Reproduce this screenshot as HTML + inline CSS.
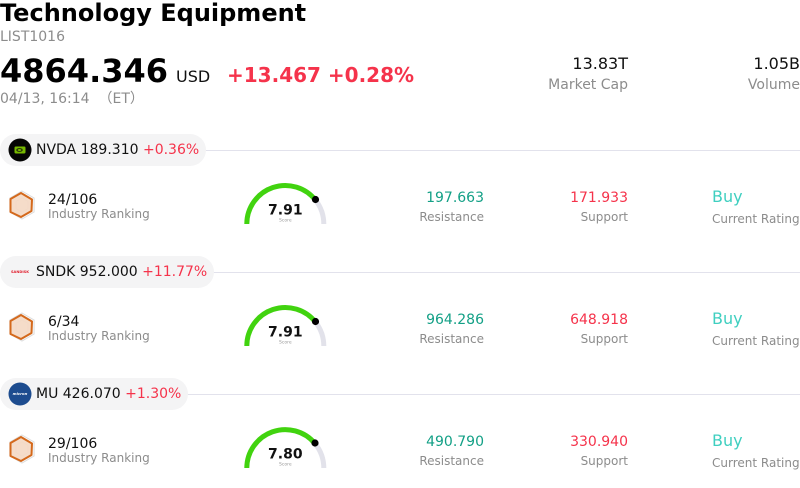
<!DOCTYPE html>
<html><head><meta charset="utf-8">
<style>
*{margin:0;padding:0;box-sizing:border-box}
html,body{width:800px;height:488px;background:#fff;overflow:hidden}
body{position:relative;font-family:"DejaVu Sans","Liberation Sans","Noto Sans CJK SC",sans-serif;color:#111}
.a{position:absolute;white-space:nowrap;line-height:1}
.r{text-align:right}
.g{color:#8c8c8c}
.red{color:#f5334b}
.grn{color:#13a086}
.buy{color:#3fcfc0}
.pill{position:absolute;left:0;height:32px;border-radius:16px;background:#f4f4f5;padding:0 7px 0 36px;font-size:14px;line-height:32px;white-space:nowrap;color:#111}
svg.bg{position:absolute;left:0;top:0}
</style></head><body>
<svg class="bg" width="800" height="488" viewBox="0 0 800 488">
  <line x1="0" y1="150.5" x2="800" y2="150.5" stroke="#e2e2ec" stroke-width="1"/>
  <line x1="0" y1="272.5" x2="800" y2="272.5" stroke="#e2e2ec" stroke-width="1"/>
  <line x1="0" y1="394.5" x2="800" y2="394.5" stroke="#e2e2ec" stroke-width="1"/>
  <defs>
    <g id="hex">
      <polygon points="22,191 34.1,198 34.1,212 22,219 9.9,212 9.9,198" fill="#fafafa" stroke="#dcdcdc" stroke-width="1"/>
      <polygon points="22,198 28,201.5 28,208.5 22,212 16,208.5 16,201.5" fill="none" stroke="#e6e6e6" stroke-width="0.7"/>
      <polygon points="21,193 32,199.5 31.5,211 21,217 10.5,212 10.5,199" fill="#f3d6bf" fill-opacity="0.85" stroke="#d4691c" stroke-width="2" stroke-linejoin="round"/>
    </g>
  </defs>
  <use href="#hex"/>
  <path d="M246.8 224 A38.5 38.5 0 0 1 315.8 200.5" fill="none" stroke="#41d30f" stroke-width="5"/>
  <path d="M315.8 200.5 A38.5 38.5 0 0 1 323.8 224" fill="none" stroke="#e2e2ea" stroke-width="5"/>
  <circle cx="315.5" cy="199.5" r="3.6" fill="#000"/>
  <text x="285.3" y="214.3" font-family="DejaVu Sans, sans-serif" font-weight="bold" font-size="14" text-anchor="middle" fill="#111">7.91</text>
  <text x="285.3" y="221.5" font-family="DejaVu Sans, sans-serif" font-size="4.5" text-anchor="middle" fill="#999">Score</text>
  <g transform="translate(0,122)">
    <use href="#hex"/>
    <path d="M246.8 224 A38.5 38.5 0 0 1 315.8 200.5" fill="none" stroke="#41d30f" stroke-width="5"/>
    <path d="M315.8 200.5 A38.5 38.5 0 0 1 323.8 224" fill="none" stroke="#e2e2ea" stroke-width="5"/>
    <circle cx="315.5" cy="199.5" r="3.6" fill="#000"/>
    <text x="285.3" y="214.3" font-family="DejaVu Sans, sans-serif" font-weight="bold" font-size="14" text-anchor="middle" fill="#111">7.91</text>
    <text x="285.3" y="221.5" font-family="DejaVu Sans, sans-serif" font-size="4.5" text-anchor="middle" fill="#999">Score</text>
  </g>
  <g transform="translate(0,244)">
    <use href="#hex"/>
    <path d="M246.8 224 A38.5 38.5 0 0 1 314.9 199.5" fill="none" stroke="#41d30f" stroke-width="5"/>
    <path d="M314.9 199.5 A38.5 38.5 0 0 1 323.8 224" fill="none" stroke="#e2e2ea" stroke-width="5"/>
    <circle cx="315" cy="199" r="3.6" fill="#000"/>
    <text x="285.3" y="214.3" font-family="DejaVu Sans, sans-serif" font-weight="bold" font-size="14" text-anchor="middle" fill="#111">7.80</text>
    <text x="285.3" y="221.5" font-family="DejaVu Sans, sans-serif" font-size="4.5" text-anchor="middle" fill="#999">Score</text>
  </g>
</svg>

<div class="a" style="left:0;top:1px;font-size:24px;font-weight:bold;color:#000">Technology Equipment</div>
<div class="a g" style="left:0;top:30px;font-size:14px">LIST1016</div>
<div class="a" style="left:0;top:55px;font-size:32px;font-weight:bold;color:#000">4864.346</div>
<div class="a" style="left:176px;top:68.5px;font-size:16px;color:#111">USD</div>
<div class="a red" style="left:227px;top:65px;font-size:20px;font-weight:bold">+13.467 +0.28%</div>
<div class="a g" style="left:0;top:91.5px;font-size:14px">04/13, 16:14 &nbsp;（ET）</div>

<div class="a r" style="right:172px;top:56px;font-size:16px;color:#111">13.83T</div>
<div class="a r g" style="right:172px;top:78px;font-size:14px">Market Cap</div>
<div class="a r" style="right:0;top:56px;font-size:16px;color:#111">1.05B</div>
<div class="a r g" style="right:0;top:78px;font-size:14px">Volume</div>

<div class="pill" style="top:134px">
  <svg style="position:absolute;left:8px;top:4px" width="24" height="24" viewBox="0 0 24 24">
    <circle cx="12" cy="12" r="11.5" fill="#050505"/>
    <rect x="6.5" y="8.5" width="11" height="7" rx="1.2" fill="#76b900"/>
    <ellipse cx="11.5" cy="12" rx="3.3" ry="2" fill="#2a3a08"/>
    <ellipse cx="11.5" cy="12" rx="1.6" ry="1" fill="#76b900"/>
  </svg>NVDA 189.310 <span class="red">+0.36%</span></div>
<div class="pill" style="top:256px">
  <svg style="position:absolute;left:8px;top:4px" width="24" height="24" viewBox="0 0 24 24">
    <text x="12" y="13.2" font-family="DejaVu Sans, sans-serif" font-weight="bold" font-size="3.6" text-anchor="middle" fill="#e0202f">SANDISK</text>
  </svg>SNDK 952.000 <span class="red">+11.77%</span></div>
<div class="pill" style="top:378px">
  <svg style="position:absolute;left:8px;top:4px" width="24" height="24" viewBox="0 0 24 24">
    <circle cx="12" cy="12" r="11.5" fill="#1d4c8f"/>
    <text x="12" y="13.2" font-family="DejaVu Sans, sans-serif" font-weight="bold" font-style="italic" font-size="3.8" text-anchor="middle" fill="#fff">micron</text>
  </svg>MU 426.070 <span class="red">+1.30%</span></div>

<div class="a" style="left:48px;top:192.5px;font-size:14px">24/106</div>
<div class="a g" style="left:48px;top:208px;font-size:12px">Industry Ranking</div>
<div class="a r grn" style="right:316px;top:190.5px;font-size:14px">197.663</div>
<div class="a r g" style="right:316px;top:210.5px;font-size:12px">Resistance</div>
<div class="a r red" style="right:172px;top:190.5px;font-size:14px">171.933</div>
<div class="a r g" style="right:172px;top:210.5px;font-size:12px">Support</div>
<div class="a buy" style="left:712px;top:189px;font-size:16px">Buy</div>
<div class="a g" style="left:712px;top:212.5px;font-size:12px">Current Rating</div>

<div class="a" style="left:48px;top:314.5px;font-size:14px">6/34</div>
<div class="a g" style="left:48px;top:330px;font-size:12px">Industry Ranking</div>
<div class="a r grn" style="right:316px;top:312.5px;font-size:14px">964.286</div>
<div class="a r g" style="right:316px;top:332.5px;font-size:12px">Resistance</div>
<div class="a r red" style="right:172px;top:312.5px;font-size:14px">648.918</div>
<div class="a r g" style="right:172px;top:332.5px;font-size:12px">Support</div>
<div class="a buy" style="left:712px;top:311px;font-size:16px">Buy</div>
<div class="a g" style="left:712px;top:334.5px;font-size:12px">Current Rating</div>

<div class="a" style="left:48px;top:436.5px;font-size:14px">29/106</div>
<div class="a g" style="left:48px;top:452px;font-size:12px">Industry Ranking</div>
<div class="a r grn" style="right:316px;top:434.5px;font-size:14px">490.790</div>
<div class="a r g" style="right:316px;top:454.5px;font-size:12px">Resistance</div>
<div class="a r red" style="right:172px;top:434.5px;font-size:14px">330.940</div>
<div class="a r g" style="right:172px;top:454.5px;font-size:12px">Support</div>
<div class="a buy" style="left:712px;top:433px;font-size:16px">Buy</div>
<div class="a g" style="left:712px;top:456.5px;font-size:12px">Current Rating</div>
</body></html>
